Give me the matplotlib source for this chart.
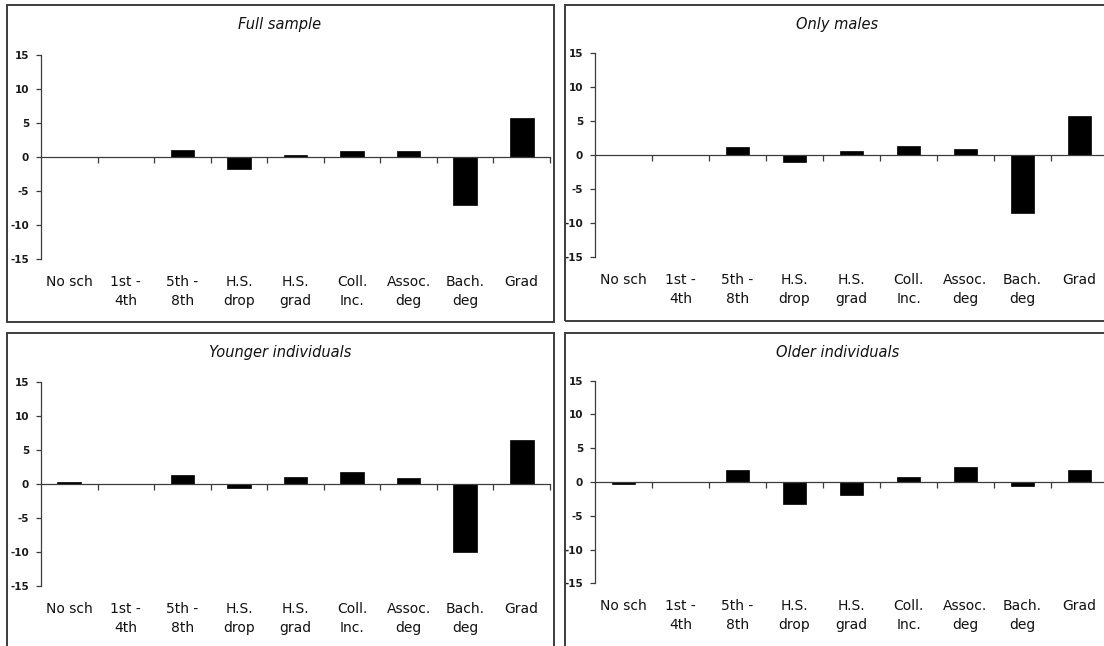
import matplotlib
matplotlib.use("Agg")
import matplotlib.pyplot as plt
from matplotlib.patches import Rectangle
import numpy as np

plt.rcParams['font.family'] = ['DejaVu Sans']

# ---- data ----
categories = ["No sch", "1st -\n4th", "5th -\n8th", "H.S.\ndrop", "H.S.\ngrad",
              "Coll.\nInc.", "Assoc.\ndeg", "Bach.\ndeg", "Grad"]
full_sample = [0.0, 0.0, 1.1, -1.8, 0.25, 0.9, 0.9, -7.0, 5.8]
only_males = [0.0, 0.0, 1.1, -1.1, 0.5, 1.3, 0.9, -8.5, 5.65]
younger_individuals = [0.25, 0.0, 1.3, -0.55, 1.1, 1.7, 0.9, -10.1, 6.45]
older_individuals = [-0.25, 0.0, 1.8, -3.2, -1.9, 0.75, 2.2, -0.65, 1.8]
titles = ["Full sample", "Only males", "Younger individuals", "Older individuals"]
series = [full_sample, only_males, younger_individuals, older_individuals]
yticks = [-15, -10, -5, 0, 5, 10, 15]

W, H = 1104, 646
fig = plt.figure(figsize=(W / 100, H / 100), dpi=100)
fig.patch.set_facecolor("white")

# layout in pixels: box (x0, y0, x1, y1), axes (left, top, right, bottom), title center (cx, cy)
layout = [
    dict(box=(7, 5, 553.5, 322), ax=(41, 55, 550, 259.3), title=(280, 25)),
    dict(box=(565, 5, 1110, 321), ax=(595, 52.7, 1108, 256.7), title=(837.5, 25)),
    dict(box=(7, 333, 553.5, 660), ax=(41, 382.3, 550, 585.7), title=(280, 352.7)),
    dict(box=(565, 333, 1110, 660), ax=(595, 380.7, 1108, 583.3), title=(837.5, 352.7)),
]

edge = "#3c3c3c"
for vals, title, lay in zip(series, titles, layout):
    x0, y0, x1, y1 = lay["box"]
    fig.add_artist(Rectangle((x0 / W, 1 - y1 / H), (x1 - x0) / W, (y1 - y0) / H,
                             transform=fig.transFigure, fill=False, ec=edge, lw=1.4))
    cx, cy = lay["title"]
    fig.text(cx / W, 1 - cy / H, title, ha="center", va="center",
             style="italic", fontsize=10.5, color="#111111")

    l, t, r, b = lay["ax"]
    ax = fig.add_axes([l / W, 1 - b / H, (r - l) / W, (b - t) / H])
    ax.set_facecolor("none")
    x = np.arange(len(categories))
    ax.bar(x, vals, width=0.42, color="black", edgecolor="black", lw=0.5, zorder=2)
    ax.set_xlim(-0.5, len(categories) - 0.5)
    ax.set_ylim(-15, 15)

    for s in ("top", "right"):
        ax.spines[s].set_visible(False)
    ax.spines["bottom"].set_position(("data", 0))
    ax.spines["bottom"].set_color(edge)
    ax.spines["bottom"].set_linewidth(0.9)
    ax.spines["left"].set_color(edge)
    ax.spines["left"].set_linewidth(0.9)

    ax.set_xticks(np.arange(0.5, len(categories), 1.0))
    ax.set_xticklabels([])
    ax.tick_params(axis="x", direction="out", length=4.3, width=0.9, color=edge)

    ax.set_yticks(yticks)
    ax.set_yticklabels([str(v) for v in yticks], fontweight="bold")
    ax.tick_params(axis="y", direction="out", length=3.6, width=0.9, color=edge,
                   pad=5, labelsize=7.5, labelcolor="#1a1a1a")

    sec = ax.secondary_xaxis(0)
    sec.set_xticks(x)
    sec.set_xticklabels(categories)
    sec.tick_params(length=0, pad=11.5, labelsize=10, labelcolor="#111111")
    sec.spines["bottom"].set_visible(False)
    for tl in sec.get_xticklabels():
        tl.set_linespacing(1.45)

fig.savefig("out.png", dpi=100, facecolor="white")
